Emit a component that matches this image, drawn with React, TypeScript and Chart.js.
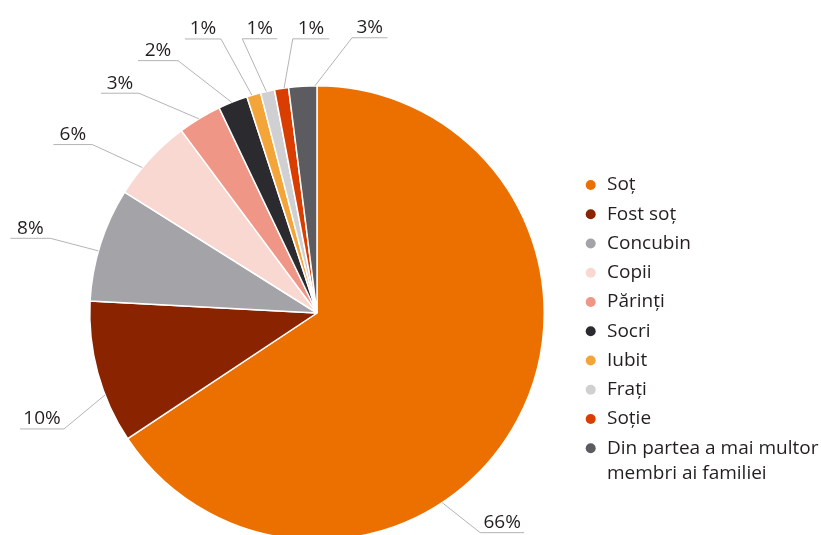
import React, { useEffect, useRef } from "react";
import { Chart, registerables } from "chart.js";

Chart.register(...registerables);

const categories = [
  "Soț",
  "Fost soț",
  "Concubin",
  "Copii",
  "Părinți",
  "Socri",
  "Iubit",
  "Frați",
  "Soție",
  "Din partea a mai multor membri ai familiei",
];
const values = [65.8, 10.2, 8.1, 5.9, 3.1, 2.1, 1.0, 1.0, 1.0, 2.0];
const pctLabels = ["66%", "10%", "8%", "6%", "3%", "2%", "1%", "1%", "1%", "3%"];
const colors = [
  "#ec7000",
  "#8a2400",
  "#a4a3a8",
  "#f8d8d0",
  "#f09686",
  "#2b2a2f",
  "#f4a53a",
  "#d0d0d2",
  "#da3d00",
  "#5c5b60",
];

// leader layout: fraction along arc, elbow offset, horizontal length
const leaderLayout = [
  { f: 0.62, dx: 38, dy: 30, h: 44 },
  { f: 0.34, dx: -41, dy: 34, h: -44 },
  { f: 0.44, dx: -48, dy: -12.6, h: -40 },
  { f: 0.36, dx: -50, dy: -23, h: -39 },
  { f: 0.48, dx: -60, dy: -25.6, h: -38 },
  { f: 0.46, dx: -53.7, dy: -41.7, h: -40 },
  { f: 0.37, dx: -31, dy: -56.3, h: -36 },
  { f: 0.41, dx: -24, dy: -52.7, h: 35 },
  { f: 0.68, dx: 8.7, dy: -49.3, h: 36.5 },
  { f: 0.93, dx: 37, dy: -48, h: 35.5 },
];

const FONT = '19px "Open Sans", sans-serif';
const TEXT_COLOR = "#231f20";

const overlayPlugin = {
  id: "overlay",
  afterDatasetsDraw(chart: any) {
    const ctx = chart.ctx as CanvasRenderingContext2D;
    const meta = chart.getDatasetMeta(0);
    ctx.save();
    // leader lines + percentage labels
    meta.data.forEach((arc: any, i: number) => {
      const lay = leaderLayout[i];
      const a = arc.startAngle + lay.f * (arc.endAngle - arc.startAngle);
      const r = arc.outerRadius;
      const ax = arc.x + r * Math.cos(a);
      const ay = arc.y + r * Math.sin(a);
      const ex = ax + lay.dx;
      const ey = ay + lay.dy;
      const hx = ex + lay.h;
      ctx.strokeStyle = "#b4b4b4";
      ctx.lineWidth = 1;
      ctx.beginPath();
      ctx.moveTo(ax, ay);
      ctx.lineTo(ex, ey);
      ctx.lineTo(hx, ey);
      ctx.stroke();
      ctx.fillStyle = TEXT_COLOR;
      ctx.font = FONT;
      ctx.textAlign = "center";
      ctx.textBaseline = "alphabetic";
      ctx.fillText(pctLabels[i], (ex + hx) / 2, ey - 4.5);
    });
    // legend
    const dotX = 590.7;
    const textX = 607;
    const top = 185;
    const step = 29.25;
    ctx.font = FONT;
    ctx.textAlign = "left";
    ctx.textBaseline = "middle";
    categories.forEach((cat, i) => {
      const y = top + i * step;
      ctx.fillStyle = colors[i];
      ctx.beginPath();
      ctx.arc(dotX, y, 5, 0, Math.PI * 2);
      ctx.fill();
      ctx.fillStyle = TEXT_COLOR;
      // wrap
      const words = cat.split(" ");
      const lines: string[] = [];
      let cur = "";
      words.forEach((w) => {
        const t = cur ? cur + " " + w : w;
        if (ctx.measureText(t).width > 214 && cur) {
          lines.push(cur);
          cur = w;
        } else cur = t;
      });
      lines.push(cur);
      lines.forEach((ln, j) => ctx.fillText(ln, textX, y + j * 25));
    });
    ctx.restore();
  },
};

export default function App() {
  const ref = useRef<HTMLCanvasElement | null>(null);
  useEffect(() => {
    if (!ref.current) return;
    const chart = new Chart(ref.current, {
      type: "pie",
      data: {
        labels: categories,
        datasets: [
          {
            data: values,
            backgroundColor: colors,
            borderColor: "#ffffff",
            borderWidth: 1.5,
          },
        ],
      },
      options: {
        responsive: false,
        animation: false,
        layout: { padding: { left: 89, right: 276, top: 85, bottom: 4 } },
        plugins: {
          legend: { display: false },
          tooltip: { enabled: false },
        },
      },
      plugins: [overlayPlugin],
    });
    return () => chart.destroy();
  }, []);
  return (
    <div
      style={{
        position: "fixed",
        left: 0,
        top: 0,
        width: 821,
        height: 535,
        overflow: "hidden",
        background: "#fff",
      }}
    >
      <canvas ref={ref} width={821} height={545} style={{ width: 821, height: 545, display: "block" }} />
    </div>
  );
}
